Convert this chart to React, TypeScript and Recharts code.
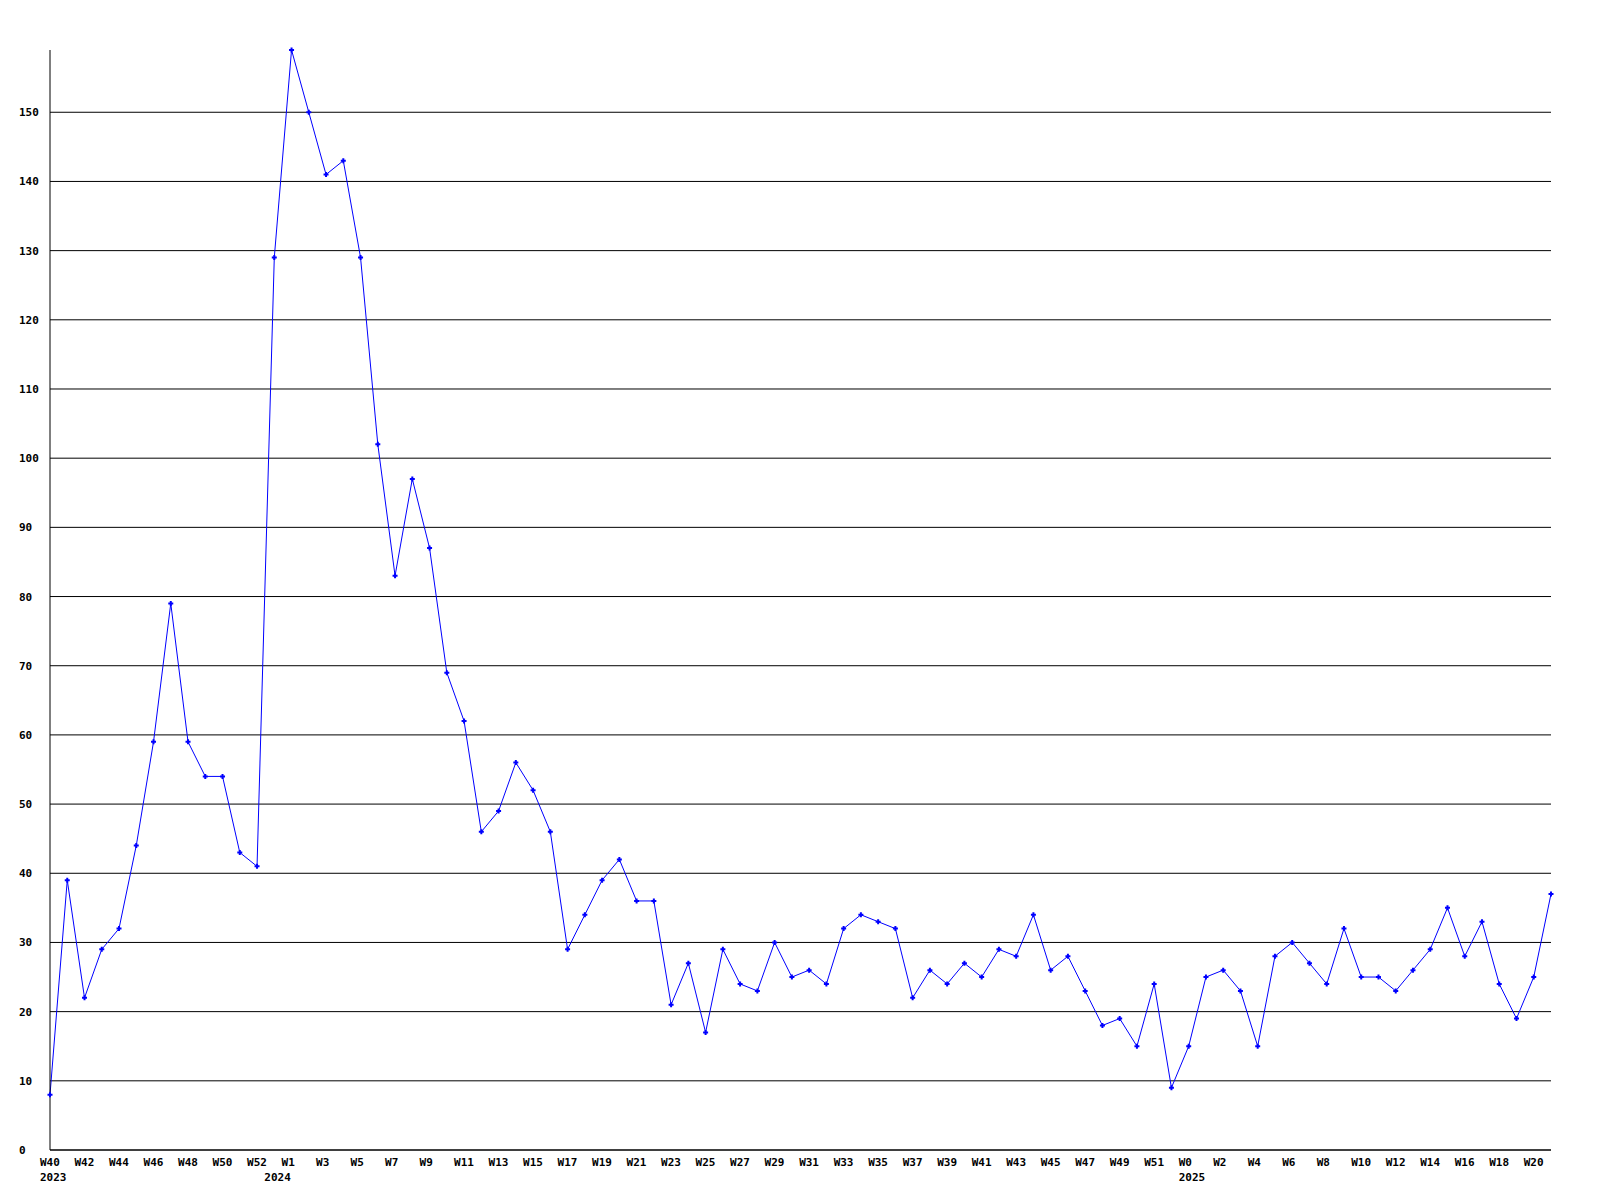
import React from 'react';
import { LineChart, Line, XAxis, YAxis, CartesianGrid } from 'recharts';

const weeks = [
  'W40', 'W41', 'W42', 'W43', 'W44', 'W45', 'W46', 'W47', 'W48', 'W49', 'W50', 'W51', 'W52',
  'W0', 'W1', 'W2', 'W3', 'W4', 'W5', 'W6', 'W7', 'W8', 'W9', 'W10', 'W11', 'W12', 'W13', 'W14',
  'W15', 'W16', 'W17', 'W18', 'W19', 'W20', 'W21', 'W22', 'W23', 'W24', 'W25', 'W26', 'W27',
  'W28', 'W29', 'W30', 'W31', 'W32', 'W33', 'W34', 'W35', 'W36', 'W37', 'W38', 'W39', 'W40',
  'W41', 'W42', 'W43', 'W44', 'W45', 'W46', 'W47', 'W48', 'W49', 'W50', 'W51', 'W52',
  'W0', 'W1', 'W2', 'W3', 'W4', 'W5', 'W6', 'W7', 'W8', 'W9', 'W10', 'W11', 'W12', 'W13', 'W14',
  'W15', 'W16', 'W17', 'W18', 'W19', 'W20', 'W21',
];

// year label shown under the first week of each year
const years: Record<number, string> = { 0: '2023', 13: '2024', 66: '2025' };

const counts = [
  8, 39, 22, 29, 32, 44, 59, 79, 59, 54, 54, 43, 41,
  129, 159, 150, 141, 143, 129, 102, 83, 97, 87, 69, 62, 46, 49, 56,
  52, 46, 29, 34, 39, 42, 36, 36, 21, 27, 17, 29, 24,
  23, 30, 25, 26, 24, 32, 34, 33, 32, 22, 26, 24, 27,
  25, 29, 28, 34, 26, 28, 23, 18, 19, 15, 24, 9,
  15, 25, 26, 23, 15, 28, 30, 27, 24, 32, 25, 25, 23, 26, 29,
  35, 28, 33, 24, 19, 25, 37,
];

const yTicks = [0, 10, 20, 30, 40, 50, 60, 70, 80, 90, 100, 110, 120, 130, 140, 150];

const data = counts.map((v, i) => ({ i, week: weeks[i], value: v }));

const FONT = '"DejaVu Sans Mono", monospace';

const WeekTick = ({ x, y, payload }: any) => {
  const i = payload.value as number;
  return (
    <g>
      {i % 2 === 0 && (
        <text x={x - 10} y={y + 16} textAnchor="start" fontFamily={FONT} fontWeight="bold" fontSize={11} fill="#000">
          {weeks[i]}
        </text>
      )}
      {years[i] && (
        <text x={x - 10} y={y + 31} textAnchor="start" fontFamily={FONT} fontWeight="bold" fontSize={11} fill="#000">
          {years[i]}
        </text>
      )}
    </g>
  );
};

const CountTick = ({ y, payload }: any) => (
  <text x={19} y={y + 4} textAnchor="start" fontFamily={FONT} fontWeight="bold" fontSize={11} fill="#000">
    {payload.value}
  </text>
);

const Marker = ({ cx, cy }: any) => {
  if (cx == null || cy == null) return null;
  return (
    <path
      d={`M${cx - 1},${cy - 2.5}h2v1.5h1.5v2h-1.5v1.5h-2v-1.5h-1.5v-2h1.5z`}
      fill="#0000ff"
    />
  );
};

export default function App() {
  return (
    <div style={{ position: 'absolute', left: 0, top: 0, width: 1600, height: 1200, background: '#fff' }}>
      <LineChart width={1600} height={1200} data={data} margin={{ top: 50, right: 49, bottom: 10, left: 0 }}>
        <CartesianGrid vertical={false} horizontalValues={yTicks} stroke="#000" strokeWidth={1} />
        <XAxis
          dataKey="i"
          interval={0}
          tick={<WeekTick />}
          tickLine={false}
          tickSize={0}
          tickMargin={0}
          axisLine={{ stroke: '#000' }}
          height={40}
        />
        <YAxis
          domain={[0, 159]}
          ticks={yTicks}
          tick={<CountTick />}
          tickLine={false}
          axisLine={{ stroke: '#000' }}
          width={50}
        />
        <Line
          type="linear"
          dataKey="value"
          stroke="#0000ff"
          strokeWidth={1}
          dot={<Marker />}
          activeDot={false}
          isAnimationActive={false}
        />
      </LineChart>
    </div>
  );
}
